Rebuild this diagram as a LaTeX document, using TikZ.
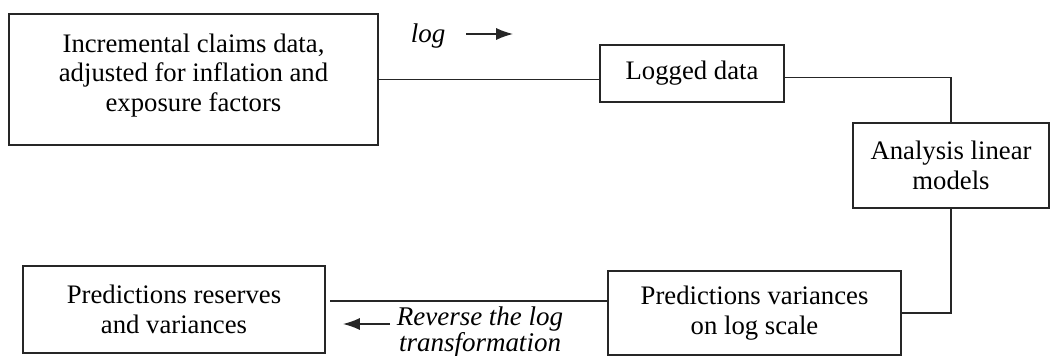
\documentclass[tikz,border=0pt]{standalone}
\usepackage{fontspec}
\setmainfont{Liberation Serif}
\usepackage{tikz}
\usetikzlibrary{arrows.meta}

\begin{document}
\begin{tikzpicture}[
  stage/.style={draw=black!85,line width=1pt,align=center,inner sep=0pt,
    font=\fontsize{19}{21}\selectfont},
  link/.style={draw=black!85,line width=1pt},
  arr/.style={-{Latex[length=0.42cm,width=0.3cm]},line width=1pt,black!85},
  lbl/.style={align=center,inner sep=0.5pt,font=\fontsize{19.2}{17}\selectfont\itshape}]
  \useasboundingbox (0,0) rectangle (26.25,-8.9);

  % top row
  \node[stage,minimum width=9.225cm,minimum height=3.275cm,text depth=0.35cm] (data) at (4.8375,-1.9875)
    {Incremental claims data,\\ adjusted for inflation and\\ exposure factors};
  \node[stage,minimum width=4.6cm,minimum height=1.425cm] (logged) at (17.3,-1.8375)
    {Logged data};

  % right column
  \node[stage,minimum width=4.9cm,minimum height=2.125cm] (analysis) at (23.775,-4.1375)
    {Analysis linear\\ models};

  % bottom row
  \node[stage,minimum width=7.325cm,minimum height=2.1cm] (predvar) at (18.8625,-7.825)
    {Predictions variances\\ on log scale};
  \node[stage,minimum width=7.55cm,minimum height=2.175cm] (reserves) at (4.35,-7.7375)
    {Predictions reserves\\ and variances};

  % connectors
  \draw[link] (data.east) -- (data.east -| logged.west);
  \draw[link] ([yshift=-0.1cm]logged.east) -| (analysis.north);
  \draw[link] (analysis.south) |- (predvar.east);
  \coordinate (revstart) at ([yshift=0.3cm]predvar.west);
  \draw[link,shorten >=0.1cm] (revstart) -- (revstart -| reserves.east);

  % direction labels
  \node[lbl] (loglbl) at (10.7,-0.9) {log};
  \coordinate (logA) at (11.65,-0.85);
  \coordinate (logB) at (12.825,-0.85);
  \draw[arr] (logA) -- (logB);

  \node[lbl] (revlbl) at (12.0,-8.3) {Reverse the log\\ transformation};
  \coordinate (revA) at (9.75,-8.1);
  \coordinate (revB) at (8.575,-8.1);
  \draw[arr] (revA) -- (revB);
\end{tikzpicture}
\end{document}
